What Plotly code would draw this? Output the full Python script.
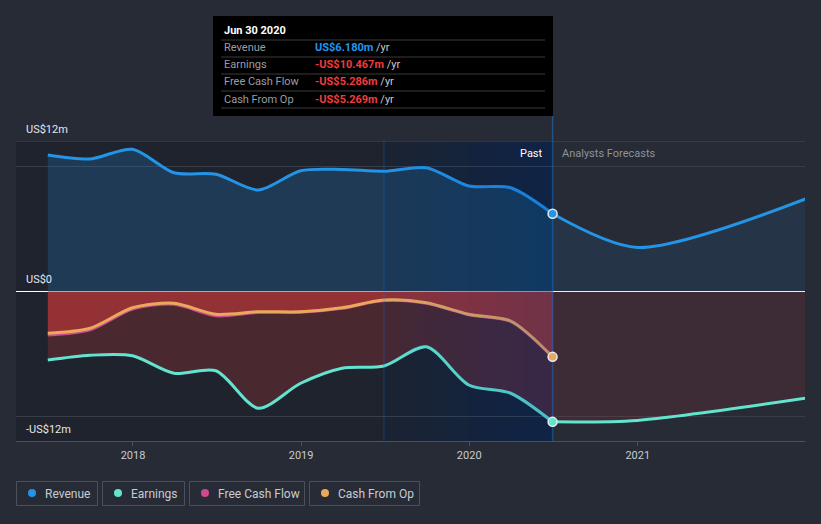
import pandas as pd
import plotly.graph_objects as go

# ---------------- data ----------------
past_dates = ["2017-06-30", "2017-09-30", "2017-12-31", "2018-03-31", "2018-06-30",
              "2018-09-30", "2018-12-31", "2019-03-31", "2019-06-30", "2019-09-30",
              "2019-12-31", "2020-03-31", "2020-06-30"]
revenue = [10.88, 10.56, 11.34, 9.46, 9.34, 8.08, 9.62, 9.72, 9.58, 9.86, 8.40, 8.26, 6.180]
earnings = [-5.52, -5.14, -5.18, -6.58, -6.38, -9.38, -7.38, -6.18, -6.00, -4.46, -7.52, -8.18, -10.467]
free_cash_flow = [-3.52, -3.10, -1.44, -1.06, -1.98, -1.70, -1.70, -1.38, -0.76, -0.98, -1.90, -2.44, -5.286]
cash_from_op = [-3.38, -2.98, -1.34, -0.98, -1.86, -1.66, -1.66, -1.34, -0.72, -0.94, -1.86, -2.40, -5.269]

fc_dates = ["2020-06-30", "2020-12-31", "2021-12-31"]
revenue_fc = [6.180, 3.48, 7.36]
earnings_fc = [-10.467, -10.35, -8.58]

year_ticks = ["2018-01-01", "2019-01-01", "2020-01-01", "2021-01-01"]
year_labels = ["2018", "2019", "2020", "2021"]

# ---------------- style ----------------
BG = "#262b36"
C_REV = "#2394e6"
C_EARN = "#62e4cf"
C_FCF = "#cc4a8e"
C_CFO = "#e8a95c"
FONT = "Roboto"

W, H = 821, 524
L, R, T, B = 16, 16, 141, 83
PW, PH = W - L - R, H - T - B


def px(x):
    return (x - L) / PW


def py(y):
    return (H - B - y) / PH


fig = go.Figure()

# fills first
fig.add_trace(go.Scatter(x=past_dates, y=revenue, mode="lines", line=dict(width=0, shape="spline", smoothing=0.8),
                         fill="tozeroy", fillcolor="rgba(33,150,243,0.20)", hoverinfo="skip", showlegend=False))
fig.add_trace(go.Scatter(x=past_dates, y=earnings, mode="lines", line=dict(width=0, shape="spline", smoothing=0.8),
                         fill="tozeroy", fillcolor="rgba(230,60,60,0.22)", hoverinfo="skip", showlegend=False))
fig.add_trace(go.Scatter(x=past_dates, y=cash_from_op, mode="lines", line=dict(width=0, shape="spline", smoothing=0.8),
                         fill="tozeroy", fillcolor="rgba(230,60,60,0.47)", hoverinfo="skip", showlegend=False))
fig.add_trace(go.Scatter(x=fc_dates, y=revenue_fc, mode="lines", line=dict(width=0, shape="spline", smoothing=0.8),
                         fill="tozeroy", fillcolor="rgba(33,150,243,0.09)", hoverinfo="skip", showlegend=False))
fig.add_trace(go.Scatter(x=fc_dates, y=earnings_fc, mode="lines", line=dict(width=0, shape="spline", smoothing=0.8),
                         fill="tozeroy", fillcolor="rgba(230,60,60,0.12)", hoverinfo="skip", showlegend=False))

# lines
fig.add_trace(go.Scatter(x=past_dates, y=revenue, mode="lines", name="Revenue",
                         line=dict(color=C_REV, width=3, shape="spline", smoothing=0.8), showlegend=False))
fig.add_trace(go.Scatter(x=fc_dates, y=revenue_fc, mode="lines",
                         line=dict(color=C_REV, width=3, shape="spline", smoothing=0.8), showlegend=False))
fig.add_trace(go.Scatter(x=past_dates, y=earnings, mode="lines", name="Earnings",
                         line=dict(color=C_EARN, width=3, shape="spline", smoothing=0.8), showlegend=False))
fig.add_trace(go.Scatter(x=fc_dates, y=earnings_fc, mode="lines",
                         line=dict(color=C_EARN, width=3, shape="spline", smoothing=0.8), showlegend=False))
fig.add_trace(go.Scatter(x=past_dates, y=free_cash_flow, mode="lines", name="Free Cash Flow",
                         line=dict(color=C_FCF, width=3, shape="spline", smoothing=0.8), showlegend=False))
fig.add_trace(go.Scatter(x=past_dates, y=cash_from_op, mode="lines", name="Cash From Op",
                         line=dict(color=C_CFO, width=3, shape="spline", smoothing=0.8), showlegend=False))

last = past_dates[-1]

shapes = []
# darker past region
shapes.append(dict(type="rect", xref="x", yref="paper", x0="2017-04-22", x1="2019-06-30", y0=0, y1=1,
                   fillcolor="rgba(12,14,20,0.28)", line=dict(width=0), layer="below"))
shapes.append(dict(type="rect", xref="x", yref="paper", x0="2019-06-30", x1="2020-06-30", y0=0, y1=1,
                   fillcolor="rgba(10,14,24,0.35)", line=dict(width=0), layer="below"))
# blue band overlay: nested rects all ending at the last report date -> left-to-right gradient
n_strips = 12
edges = pd.date_range("2019-06-30", "2020-06-30", periods=n_strips + 1)
for i in range(n_strips):
    a = 0.04 if i == 0 else 0.0176
    shapes.append(dict(type="rect", xref="x", yref="paper",
                       x0=edges[i].strftime("%Y-%m-%d %H:%M"), x1=last,
                       y0=0, y1=1, fillcolor=f"rgba(20,95,215,{a:.4f})", line=dict(width=0), layer="above"))
# vertical lines
shapes.append(dict(type="line", xref="x", yref="paper", x0="2019-06-30", x1="2019-06-30", y0=0, y1=1,
                   line=dict(color="rgba(33,120,220,0.35)", width=1)))
shapes.append(dict(type="line", xref="x", yref="paper", x0=last, x1=last, y0=0, y1=py(116),
                   line=dict(color="rgba(33,130,230,0.45)", width=1.5)))
# top border line
shapes.append(dict(type="line", xref="paper", yref="y", x0=0, x1=1, y0=12, y1=12,
                   line=dict(color="#464c58", width=1), layer="below"))

# tooltip
shapes.append(dict(type="rect", xref="paper", yref="paper", x0=px(213), x1=px(553), y0=py(16), y1=py(116),
                   fillcolor="#000000", line=dict(width=0)))
for yy in [40, 57, 74, 91, 108]:
    shapes.append(dict(type="line", xref="paper", yref="paper", x0=px(221), x1=px(545), y0=py(yy), y1=py(yy),
                       line=dict(color="#3a3a3a", width=1)))

annotations = []
annotations.append(dict(xref="paper", yref="paper", x=px(222), y=py(31), text="<b>Jun 30 2020</b>",
                        showarrow=False, xanchor="left", yanchor="middle",
                        font=dict(family=FONT, size=11, color="#ffffff")))
rows = [("Revenue", "US$6.180m", "#2196f3"),
        ("Earnings", "-US$10.467m", "#f03c3c"),
        ("Free Cash Flow", "-US$5.286m", "#f03c3c"),
        ("Cash From Op", "-US$5.269m", "#f03c3c")]
for i, (lab, val, col) in enumerate(rows):
    yy = 48 + 17 * i
    annotations.append(dict(xref="paper", yref="paper", x=px(222), y=py(yy), text=lab, showarrow=False,
                            xanchor="left", yanchor="middle", font=dict(family=FONT, size=11, color="#9a9da3")))
    annotations.append(dict(xref="paper", yref="paper", x=px(313), y=py(yy),
                            text=f"<b><span style='color:{col}'>{val}</span></b> /yr", showarrow=False,
                            xanchor="left", yanchor="middle", font=dict(family=FONT, size=11, color="#c8cacf")))

# y labels
for lab, yy in [("US$12m", 129), ("US$0", 279), ("-US$12m", 429)]:
    annotations.append(dict(xref="paper", yref="paper", x=px(24), y=py(yy), text=lab, showarrow=False,
                            xanchor="left", yanchor="middle", font=dict(family=FONT, size=11, color="#e6e8eb")))

# Past / forecast labels
annotations.append(dict(xref="paper", yref="paper", x=px(545), y=py(153), text="Past", showarrow=False,
                        xanchor="right", yanchor="middle", font=dict(family=FONT, size=11, color="#ffffff")))
annotations.append(dict(xref="paper", yref="paper", x=px(560), y=py(153), text="Analysts Forecasts",
                        showarrow=False, xanchor="left", yanchor="middle",
                        font=dict(family=FONT, size=11, color="#8e929a")))

# legend
legend_items = [("Revenue", C_REV, 16, 97), ("Earnings", C_EARN, 102, 184),
                ("Free Cash Flow", C_FCF, 189, 304), ("Cash From Op", C_CFO, 309, 419)]
for lab, col, x0, x1 in legend_items:
    shapes.append(dict(type="rect", xref="paper", yref="paper", x0=px(x0 + 0.5), x1=px(x1 + 0.5),
                       y0=py(481.5), y1=py(505.5), fillcolor="rgba(0,0,0,0)",
                       line=dict(color="#4a505c", width=1)))
    shapes.append(dict(type="circle", xref="paper", yref="paper", xsizemode="pixel", ysizemode="pixel",
                       xanchor=px(x0 + 16), yanchor=py(493), x0=-4, x1=4, y0=-4, y1=4,
                       fillcolor=col, line=dict(width=0)))
    annotations.append(dict(xref="paper", yref="paper", x=px(x0 + 27), y=py(493.5), text=lab, showarrow=False,
                            xanchor="left", yanchor="middle", font=dict(family=FONT, size=12, color="#c8cbd1")))

# end markers (pixel-sized circles on top of the overlay)
for val, col in [(revenue[-1], C_REV), (earnings[-1], C_EARN), (cash_from_op[-1], C_CFO)]:
    shapes.append(dict(type="circle", xref="x", yref="y", xsizemode="pixel", ysizemode="pixel",
                       xanchor=last, yanchor=val, x0=-4.5, x1=4.5, y0=-4.5, y1=4.5,
                       fillcolor=col, line=dict(color="#e8eaee", width=1.5), layer="above"))

fig.update_layout(
    width=W, height=H,
    margin=dict(l=L, r=R, t=T, b=B),
    paper_bgcolor=BG, plot_bgcolor=BG,
    showlegend=False,
    shapes=shapes, annotations=annotations,
    font=dict(family=FONT, color="#c8cbd1"),
    xaxis=dict(type="date", range=["2017-04-22", "2021-12-30"], tickvals=year_ticks, ticktext=year_labels,
               showgrid=False, zeroline=False, showline=True, linecolor="#4a505c", linewidth=1,
               ticks="outside", ticklen=4, tickcolor="#4a505c",
               tickfont=dict(family=FONT, size=11, color="#c8cbd1")),
    yaxis=dict(range=[-12, 12], tickvals=[-10, 10], showticklabels=False, showgrid=True,
               gridcolor="#383d48", gridwidth=1, zeroline=True, zerolinecolor="#ffffff", zerolinewidth=1,
               showline=False, fixedrange=True),
)

fig.write_html("out.html", config={"displayModeBar": False},
               post_script="document.body.style.margin='0';document.body.style.background='" + BG + "';")
